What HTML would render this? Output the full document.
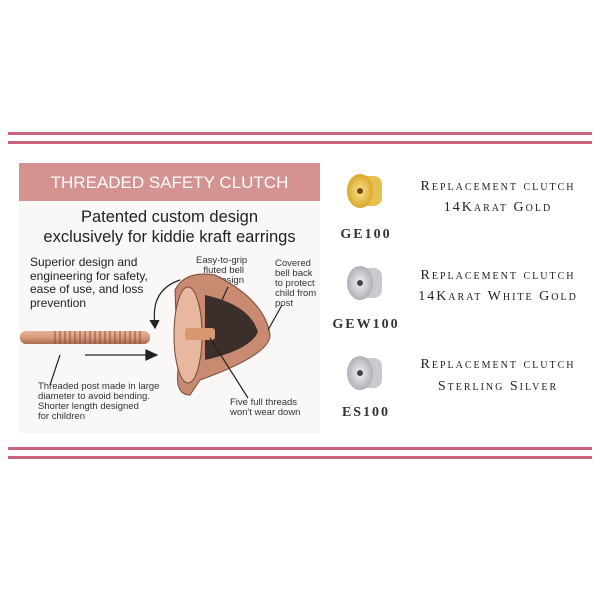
<!DOCTYPE html>
<html><head><meta charset="utf-8"><style>
body{margin:0;width:600px;height:600px;background:#fff;position:relative;overflow:hidden;font-family:"Liberation Sans",sans-serif}
.l{position:absolute;left:8px;width:584px;height:3px;background:#c9647c}
.a{position:absolute;white-space:nowrap}
.sc{font-family:"Liberation Serif",serif;font-variant:small-caps;letter-spacing:2px;font-size:14px;color:#222;text-align:center;width:220px;left:388px}
.code{font-family:"Liberation Serif",serif;letter-spacing:2px;font-size:14px;font-weight:bold;color:#333;text-align:center;width:80px;left:326px}
.s{font-size:9.5px;color:#333;line-height:10px}
</style></head><body>
<div class="l" style="top:132px"></div><div class="l" style="top:141px"></div>
<div class="l" style="top:447px"></div><div class="l" style="top:456px"></div>
<div class="a" style="left:19px;top:163px;width:301px;height:270px;background:#faf8f7"></div>
<div class="a" style="left:19px;top:163px;width:301px;height:38px;background:#d49290;color:#fff;font-size:17px;line-height:40px;text-align:center">THREADED SAFETY CLUTCH</div>
<div class="a" style="left:19px;top:207px;width:301px;text-align:center;font-size:16.5px;line-height:20px;color:#222">Patented custom design<br>exclusively for kiddie kraft earrings</div>
<div class="a" style="left:30px;top:256px;font-size:12px;line-height:13.5px;color:#222">Superior design and<br>engineering for safety,<br>ease of use, and loss<br>prevention</div>
<div class="a s" style="left:196px;top:256px;text-align:right;width:48px">Easy-to-grip<br>fluted bell<br>design</div>
<div class="a s" style="left:275px;top:259px">Covered<br>bell back<br>to protect<br>child from<br>post</div>
<div class="a s" style="left:38px;top:382px">Threaded post made in large<br>diameter to avoid bending.<br>Shorter length designed<br>for children</div>
<div class="a s" style="left:230px;top:398px">Five full threads<br>won't wear down</div>
<svg class="a" style="left:0;top:0" width="330" height="440">
<defs><linearGradient id="p" x1="0" y1="0" x2="0" y2="1"><stop offset="0" stop-color="#e6b49a"/><stop offset=".5" stop-color="#d59a7c"/><stop offset="1" stop-color="#a8694f"/></linearGradient></defs>
<rect x="20" y="331" width="130" height="13" rx="6" fill="url(#p)"/>
<g stroke="#8a5040" stroke-width="1">
<path d="M55 331 l0 13 M60 331 l0 13 M65 331 l0 13 M70 331 l0 13 M75 331 l0 13 M80 331 l0 13 M85 331 l0 13 M90 331 l0 13 M95 331 l0 13 M100 331 l0 13 M105 331 l0 13 M110 331 l0 13 M115 331 l0 13 M120 331 l0 13 M125 331 l0 13 M130 331 l0 13 M135 331 l0 13 M140 331 l0 13"/></g>
<path d="M175 290 L178 370 Q175 395 190 395 L200 380 Q270 355 270 335 Q265 300 215 275 Q185 270 175 290Z" fill="#c98a72" stroke="#7a4a38"/>
<path d="M205 295 Q250 305 258 332 Q250 350 205 360 Z" fill="#3c2e2a"/>
<ellipse cx="188" cy="335" rx="14" ry="48" fill="#e8b7a0" stroke="#7a4a38"/>
<rect x="185" y="328" width="30" height="12" rx="3" fill="#d7986e"/>
<g stroke="#222" stroke-width="1.2" fill="none">
<path d="M180 280 Q150 290 155 325"/><path d="M150 320 l5 8 l4 -8" fill="#222"/>
<path d="M85 355 L150 355"/><path d="M146 350 L157 355 L146 360Z" fill="#222"/>
<path d="M50 385 L60 355"/><path d="M228 287 L222 300"/><path d="M282 305 L268 330"/><path d="M248 398 L210 338"/>
</g>
</svg>
<svg class="a" style="left:340px;top:168px" width="50" height="250">
<defs><radialGradient id="g"><stop offset="0" stop-color="#fbe38a"/><stop offset="1" stop-color="#d8a82c"/></radialGradient>
<radialGradient id="s"><stop offset="0" stop-color="#f4f4f6"/><stop offset="1" stop-color="#aeb0b6"/></radialGradient></defs>
<rect x="20" y="8" width="22" height="30" rx="8" fill="#e8c050"/><ellipse cx="20" cy="23" rx="13" ry="17" fill="url(#g)"/><circle cx="20" cy="23" r="3" fill="#6a4a10"/>
<rect x="20" y="100" width="22" height="30" rx="8" fill="#c8cacd"/><ellipse cx="20" cy="115" rx="13" ry="17" fill="url(#s)"/><circle cx="20" cy="115" r="3" fill="#444"/>
<rect x="20" y="190" width="22" height="30" rx="8" fill="#c8cacd"/><ellipse cx="20" cy="205" rx="13" ry="17" fill="url(#s)"/><circle cx="20" cy="205" r="3" fill="#444"/>
</svg>
<div class="a code" style="top:227px">GE100</div>
<div class="a code" style="top:317px">GEW100</div>
<div class="a code" style="top:405px">ES100</div>
<div class="a sc" style="top:179px">Replacement clutch</div>
<div class="a sc" style="top:200px">14Karat Gold</div>
<div class="a sc" style="top:268px">Replacement clutch</div>
<div class="a sc" style="top:289px">14Karat White Gold</div>
<div class="a sc" style="top:357px">Replacement clutch</div>
<div class="a sc" style="top:379px">Sterling Silver</div>
</body></html>
